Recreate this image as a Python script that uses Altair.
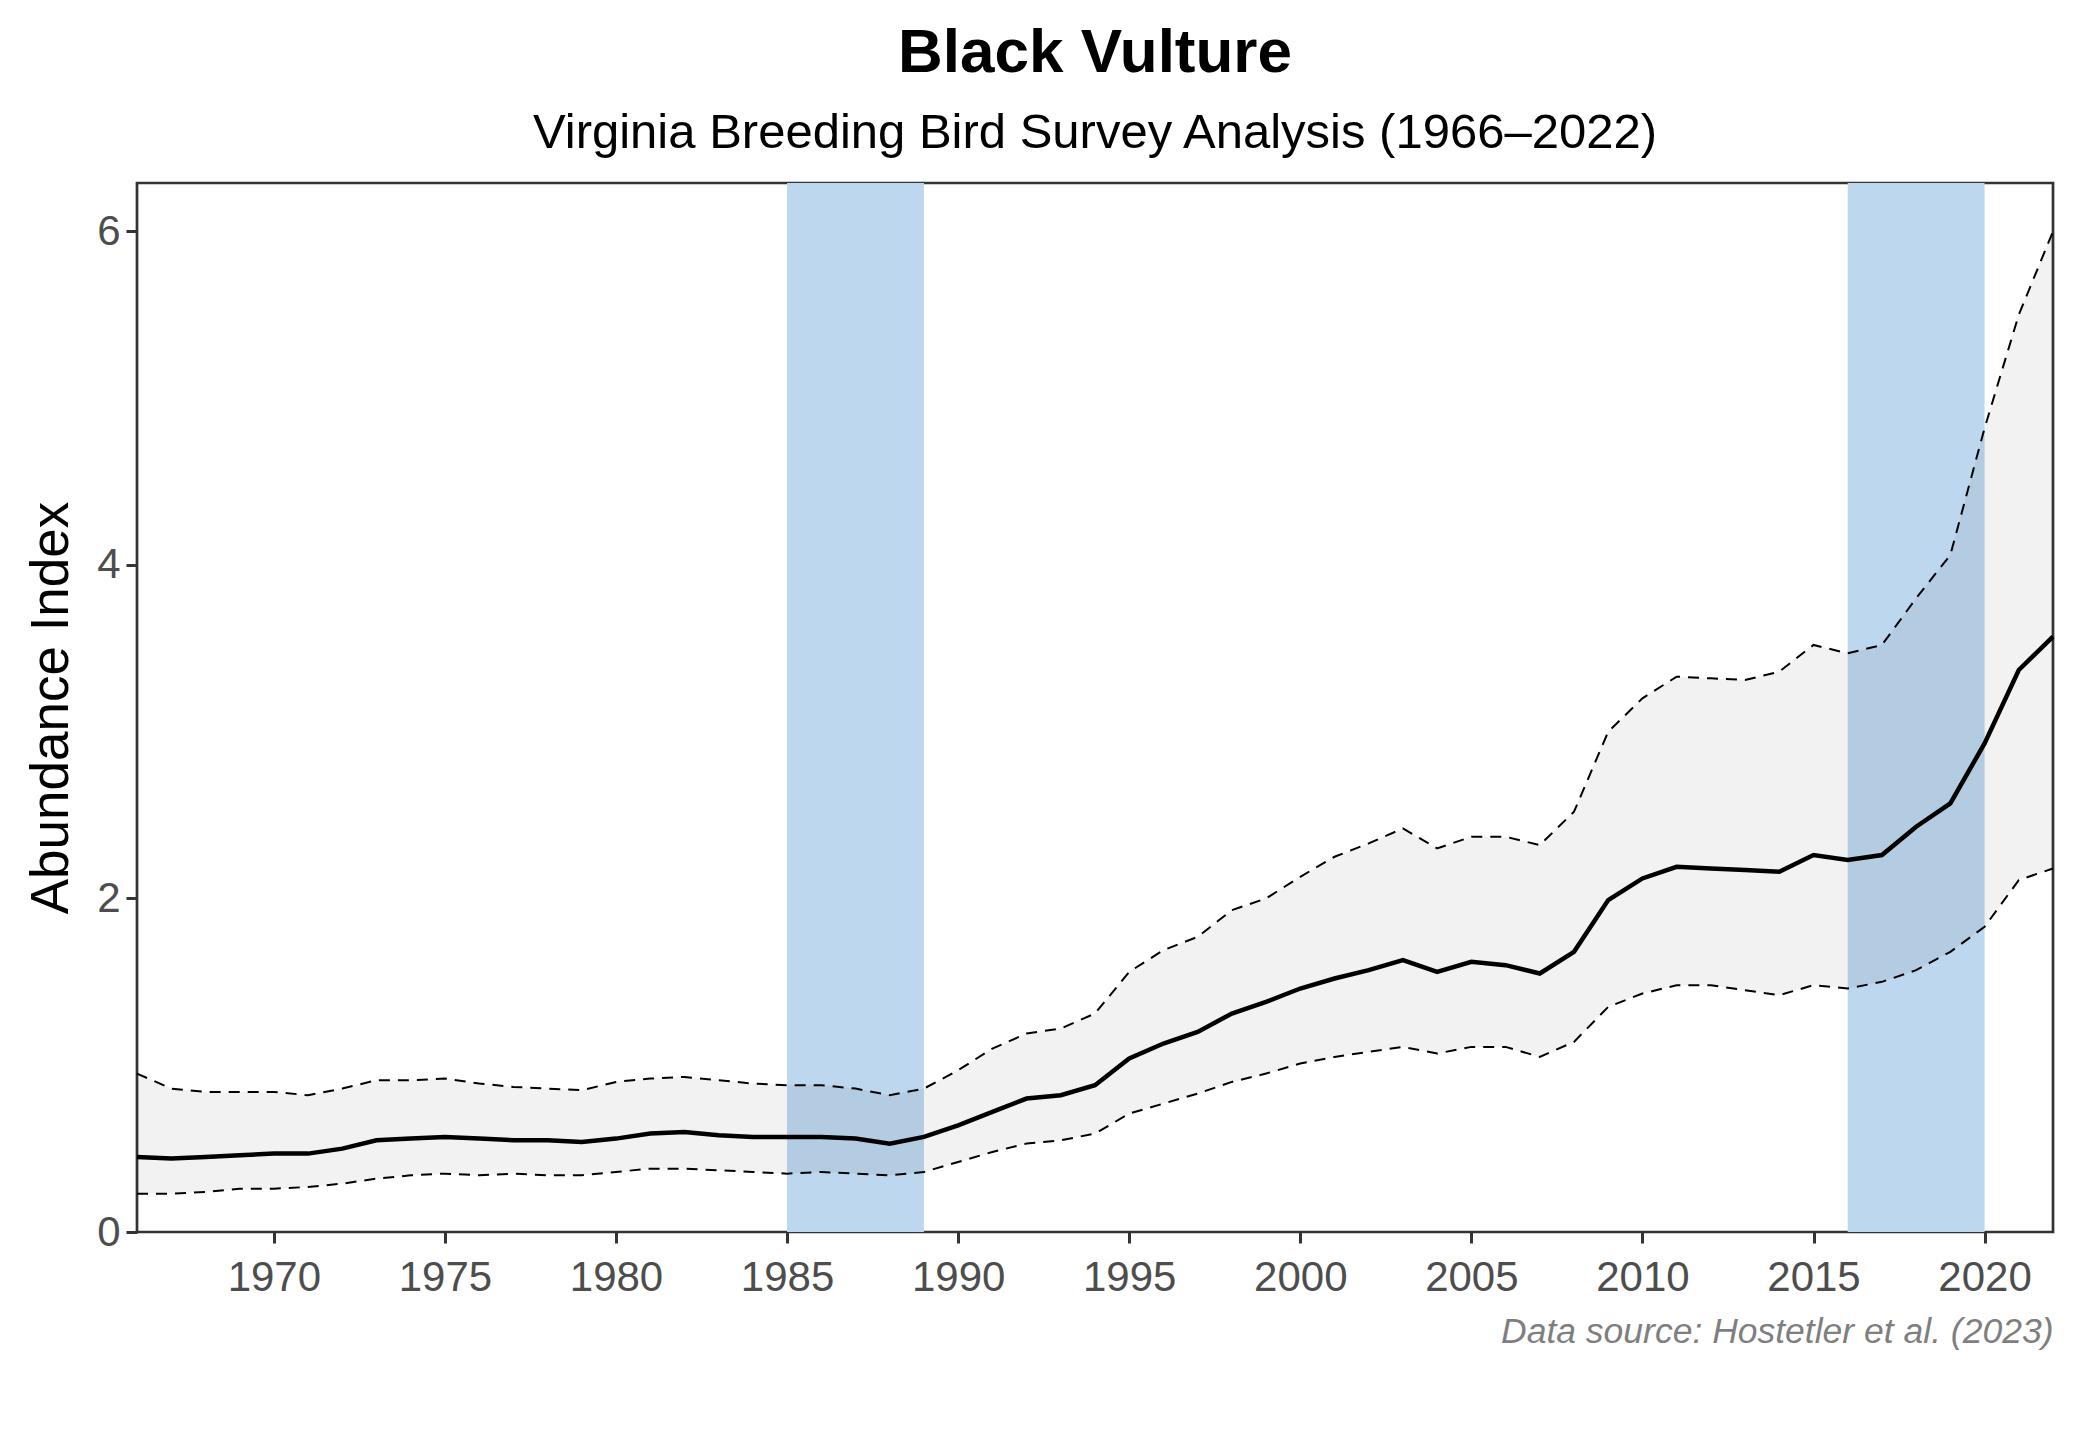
import altair as alt
import pandas as pd

years = list(range(1966, 2023))
index = [0.45, 0.44, 0.45, 0.46, 0.47, 0.47, 0.50, 0.55, 0.56, 0.57,
         0.56, 0.55, 0.55, 0.54, 0.56, 0.59, 0.60, 0.58, 0.57, 0.57,
         0.57, 0.56, 0.53, 0.57, 0.64, 0.72, 0.80, 0.82, 0.88, 1.04,
         1.13, 1.20, 1.31, 1.38, 1.46, 1.52, 1.57, 1.63, 1.56, 1.62,
         1.60, 1.55, 1.68, 1.99, 2.12, 2.19, 2.18, 2.17, 2.16, 2.26,
         2.23, 2.26, 2.43, 2.57, 2.93, 3.37, 3.57]
upper = [0.95, 0.86, 0.84, 0.84, 0.84, 0.82, 0.86, 0.91, 0.91, 0.92,
         0.89, 0.87, 0.86, 0.85, 0.90, 0.92, 0.93, 0.91, 0.89, 0.88,
         0.88, 0.86, 0.82, 0.86, 0.97, 1.10, 1.19, 1.22, 1.31, 1.56,
         1.69, 1.77, 1.93, 2.00, 2.13, 2.25, 2.33, 2.42, 2.30, 2.37,
         2.37, 2.32, 2.52, 3.00, 3.20, 3.33, 3.32, 3.31, 3.36, 3.52,
         3.47, 3.52, 3.80, 4.06, 4.82, 5.50, 6.00]
lower = [0.23, 0.23, 0.24, 0.26, 0.26, 0.27, 0.29, 0.32, 0.34, 0.35,
         0.34, 0.35, 0.34, 0.34, 0.36, 0.38, 0.38, 0.37, 0.36, 0.35,
         0.36, 0.35, 0.34, 0.36, 0.42, 0.48, 0.53, 0.55, 0.59, 0.71,
         0.77, 0.83, 0.90, 0.95, 1.01, 1.05, 1.08, 1.11, 1.07, 1.11,
         1.11, 1.05, 1.14, 1.35, 1.43, 1.48, 1.48, 1.45, 1.42, 1.48,
         1.46, 1.50, 1.57, 1.68, 1.83, 2.11, 2.18]

band_start = [1985, 2016]
band_end = [1989, 2020]

x_ticks = [1970, 1975, 1980, 1985, 1990, 1995, 2000, 2005, 2010, 2015, 2020]
y_ticks = [0, 2, 4, 6]

df = pd.DataFrame({"year": years, "index": index, "upper": upper, "lower": lower})
bands = pd.DataFrame({"start": band_start, "end": band_end})

FONT = "Liberation Sans, Arial, Helvetica, sans-serif"

xscale = alt.Scale(domain=[1966, 2022], nice=False, zero=False)
yscale = alt.Scale(domain=[0, 6.29], nice=False, zero=False)

xaxis = alt.Axis(
    values=x_ticks, format="d", grid=False, domain=False,
    tickColor="#333333", tickWidth=3, tickSize=11,
    labelFont=FONT, labelFontSize=42, labelColor="#4D4D4D", labelPadding=14,
    title="Data source: Hostetler et al. (2023)", titleFont=FONT,
    titleFontSize=35.5, titleFontStyle="italic", titleFontWeight="normal",
    titleColor="#7F7F7F", titleAnchor="end", titlePadding=16,
)
yaxis = alt.Axis(
    values=y_ticks, format="d", grid=False, domain=False,
    tickColor="#333333", tickWidth=3, tickSize=11,
    labelFont=FONT, labelFontSize=42, labelColor="#4D4D4D", labelPadding=6,
    title="Abundance Index", titleFont=FONT, titleFontSize=53,
    titleFontWeight="normal", titleColor="#000000", titlePadding=18,
)

band_layer = alt.Chart(bands).mark_rect(color="#BDD7EE").encode(
    x=alt.X("start:Q", scale=xscale, axis=xaxis),
    x2="end:Q",
)

ribbon = alt.Chart(df).mark_area(color="#000000", opacity=0.05).encode(
    x=alt.X("year:Q", scale=xscale, axis=xaxis),
    y=alt.Y("lower:Q", scale=yscale, axis=yaxis),
    y2="upper:Q",
)

upper_line = alt.Chart(df).mark_line(color="#000000", strokeWidth=2, strokeDash=[11, 8]).encode(
    x=alt.X("year:Q", scale=xscale, axis=xaxis),
    y=alt.Y("upper:Q", scale=yscale, axis=yaxis),
)
lower_line = alt.Chart(df).mark_line(color="#000000", strokeWidth=2, strokeDash=[11, 8]).encode(
    x=alt.X("year:Q", scale=xscale, axis=xaxis),
    y=alt.Y("lower:Q", scale=yscale, axis=yaxis),
)
main_line = alt.Chart(df).mark_line(color="#000000", strokeWidth=4.5).encode(
    x=alt.X("year:Q", scale=xscale, axis=xaxis),
    y=alt.Y("index:Q", scale=yscale, axis=yaxis),
)

chart = alt.layer(band_layer, ribbon, upper_line, lower_line, main_line).properties(
    width=1916,
    height=1049,
    padding={"left": 129, "top": 175, "right": 19, "bottom": 200},
    autosize=alt.AutoSizeParams(type="none"),
    background="#FFFFFF",
    title=alt.TitleParams(
        text="Black Vulture",
        subtitle="Virginia Breeding Bird Survey Analysis (1966\u20132022)",
        font=FONT, fontSize=62, fontWeight="bold", color="#000000",
        subtitleFont=FONT, subtitleFontSize=49, subtitleColor="#000000",
        subtitlePadding=24, anchor="middle", frame="group", offset=24,
    ),
).configure_view(
    stroke="#333333", strokeWidth=2.7
)

chart.save("out.html", embed_options={"renderer": "svg", "actions": False})
